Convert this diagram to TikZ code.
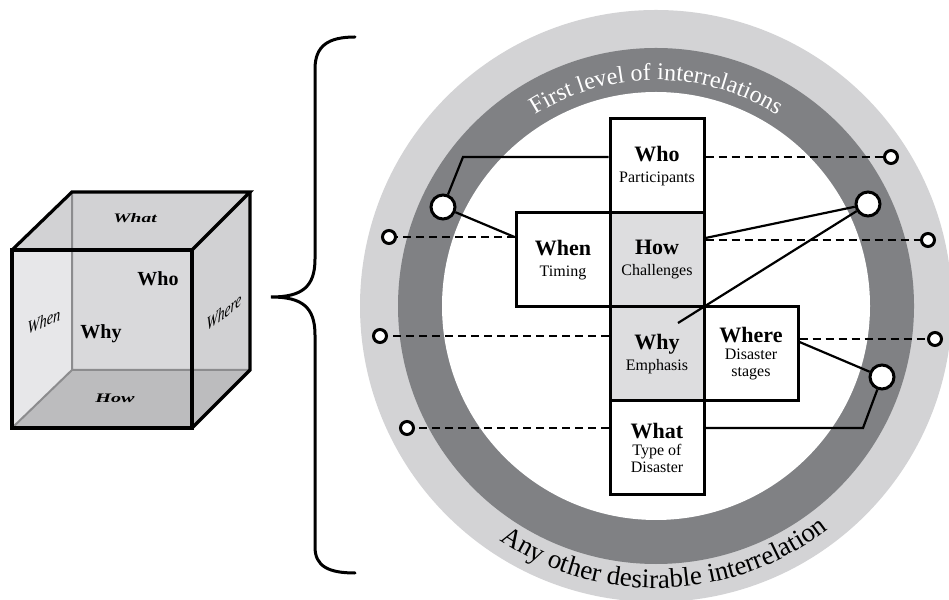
\documentclass[tikz,border=0pt]{standalone}
\usepackage{fontspec}
\setmainfont{Liberation Serif}
\usetikzlibrary{decorations.text}

\definecolor{ringlight}{RGB}{211,211,213}
\definecolor{ringdark}{RGB}{128,129,132}
\definecolor{boxgray}{RGB}{221,221,223}
\definecolor{faceleft}{RGB}{231,231,233}
\definecolor{faceback}{RGB}{217,217,219}
\definecolor{facetop}{RGB}{210,210,212}
\definecolor{faceright}{RGB}{209,209,211}
\definecolor{facebottom}{RGB}{188,188,190}
\definecolor{hiddenedge}{RGB}{140,140,142}

\newcommand\celltitle[1]{{\fontsize{22}{22}\selectfont\bfseries #1}}
\newcommand\cellsub[1]{{\fontsize{16}{17}\selectfont #1}}

\tikzset{
  cell/.style={draw, line width=3pt, minimum width=94pt, minimum height=94pt,
    inner sep=0pt, align=center, fill=white, font=\fontsize{16}{17}\selectfont},
  shaded/.style={fill=boxgray},
  bigdot/.style={circle, draw, line width=3pt, fill=white, minimum size=24pt, inner sep=0pt},
  smalldot/.style={circle, draw, line width=3pt, fill=white, minimum size=13pt, inner sep=0pt},
  link/.style={line width=2.2pt},
  dlink/.style={line width=2.2pt, dash pattern=on 8pt off 5pt},
  cubeedge/.style={line width=3.2pt},
  hidden/.style={line width=2pt, draw=hiddenedge},
  bracepen/.style={line width=3pt, line cap=round},
}

\begin{document}
\begin{tikzpicture}[x=1pt, y=1pt]
\clip (0,0) rectangle (949,599);
\fill[white] (0,0) rectangle (949,599);

% ---- transparent cube ----
\fill[faceback]   (72,229) rectangle (250,407);
\fill[faceleft]   (12,349) -- (72,407) -- (72,229) -- (12,171) -- cycle;
\fill[facetop]    (12,349) -- (72,407) -- (250,407) -- (192,349) -- cycle;
\fill[faceright]  (192,349) -- (250,407) -- (250,229) -- (192,171) -- cycle;
\fill[facebottom] (12,171) -- (72,229) -- (250,229) -- (192,171) -- cycle;
\draw[hidden] (72,407) -- (72,229) -- (250,229) (72,229) -- (12,171);
\draw[cubeedge] (12,171) rectangle (192,349);
\draw[cubeedge] (12,349) -- (72,407) -- (250,407) -- (192,349);
\draw[cubeedge] (250,407) -- (250,229) -- (192,171);

\node (cWhat) at (135,381) {\fontsize{13}{13}\selectfont\scalebox{1.5}[1]{\bfseries\itshape What}};
\node (cHow)  at (115,201) {\fontsize{13}{13}\selectfont\scalebox{1.55}[1]{\bfseries\itshape How}};
\node (cWho)  at (158,320) {\fontsize{20}{20}\selectfont\bfseries Who};
\node (cWhy)  at (101,265) {\fontsize{20}{20}\selectfont\bfseries Why};
\begin{scope}[shift={(44,278)}, yslant=0.45]
  \node[transform shape] (cWhen) at (0,0) {\fontsize{16}{16}\selectfont\itshape\scalebox{0.9}[1.15]{When}};
\end{scope}
\begin{scope}[shift={(224,287)}, yslant=0.75]
  \node[transform shape] (cWhere) at (0,0) {\fontsize{16}{16}\selectfont\itshape\scalebox{0.85}[1.2]{Where}};
\end{scope}

% ---- curly brace ----
\draw[bracepen] (355,562) .. controls (328,562) and (315,553) .. (315,530)
  -- (315,340) .. controls (315,312) and (302,302) .. (271,302)
  .. controls (302,302) and (315,292) .. (315,264)
  -- (315,52) .. controls (315,33) and (328,26) .. (355,26);

% ---- rings ----
\fill[ringlight] (656,293) circle (296);
\fill[ringdark]  (656,293) circle (258);
\fill[white]     (656,293) circle (214);

\path[decorate, decoration={text along path, text align=center, text color=white,
  text={|\fontsize{24}{24}\selectfont|First level of interrelations}}]
  (656,293) ++(150:226) arc (150:30:226);
\path[decorate, decoration={text along path, text align=center,
  text={|\fontsize{27}{27}\selectfont|Any other desirable interrelation}}]
  (656,293) ++(200:282) arc (200:344:282);

% ---- question cells ----
\node[cell] (who) at (657,433) {\celltitle{Who}\\[4pt]\cellsub{Participants}};
\node[cell] (when) at (563,339) {\celltitle{When}\\[4pt]\cellsub{Timing}};
\node[cell, shaded] (how) at (657,339) {\celltitle{How}\\[4pt]\cellsub{Challenges}};
\node[cell, shaded] (why) at (657,245) {\celltitle{Why}\\[4pt]\cellsub{Emphasis}};
\node[cell] (where) at (751,245) {\celltitle{Where}\\\cellsub{Disaster}\\\cellsub{stages}};
\node[cell] (what) at (657,151) {\celltitle{What}\\\cellsub{Type of}\\\cellsub{Disaster}};

% ---- link ends ----
\node[bigdot] (bigL)  at (443,392) {};
\node[bigdot] (bigR)  at (868,395) {};
\node[bigdot] (bigR2) at (882,222) {};
\node[smalldot] (sL1) at (389,362) {};
\node[smalldot] (sL2) at (380,263) {};
\node[smalldot] (sL3) at (407,171) {};
\node[smalldot] (sR1) at (891,442) {};
\node[smalldot] (sR2) at (928,359) {};
\node[smalldot] (sR3) at (935,260) {};
\coordinate (bendWho) at (463,442);
\coordinate (bendWhat) at (863,171);
\coordinate (whyEnd) at (678,276);

% ---- solid links ----
\draw[link] ([yshift=9pt]who.west) -- (bendWho) -- (bigL);
\draw[link] (bigL) -- ([yshift=23pt]when.west);
\draw[link] ([yshift=22pt]how.east) -- (bigR);
\draw[link] (bigR) -- (whyEnd);
\draw[link] ([yshift=12pt]where.east) -- (bigR2);
\draw[link] (bigR2) -- (bendWhat) -- ([yshift=20pt]what.east);

% ---- dashed links ----
\draw[dlink] ([yshift=9pt]who.east) -- (sR1);
\draw[dlink] ([yshift=23pt]when.west) -- (sL1);
\draw[dlink] ([yshift=20pt]how.east) -- (sR2);
\draw[dlink] ([yshift=18pt]why.west) -- (sL2);
\draw[dlink] ([yshift=15pt]where.east) -- (sR3);
\draw[dlink] ([yshift=20pt]what.west) -- (sL3);
\end{tikzpicture}
\end{document}
